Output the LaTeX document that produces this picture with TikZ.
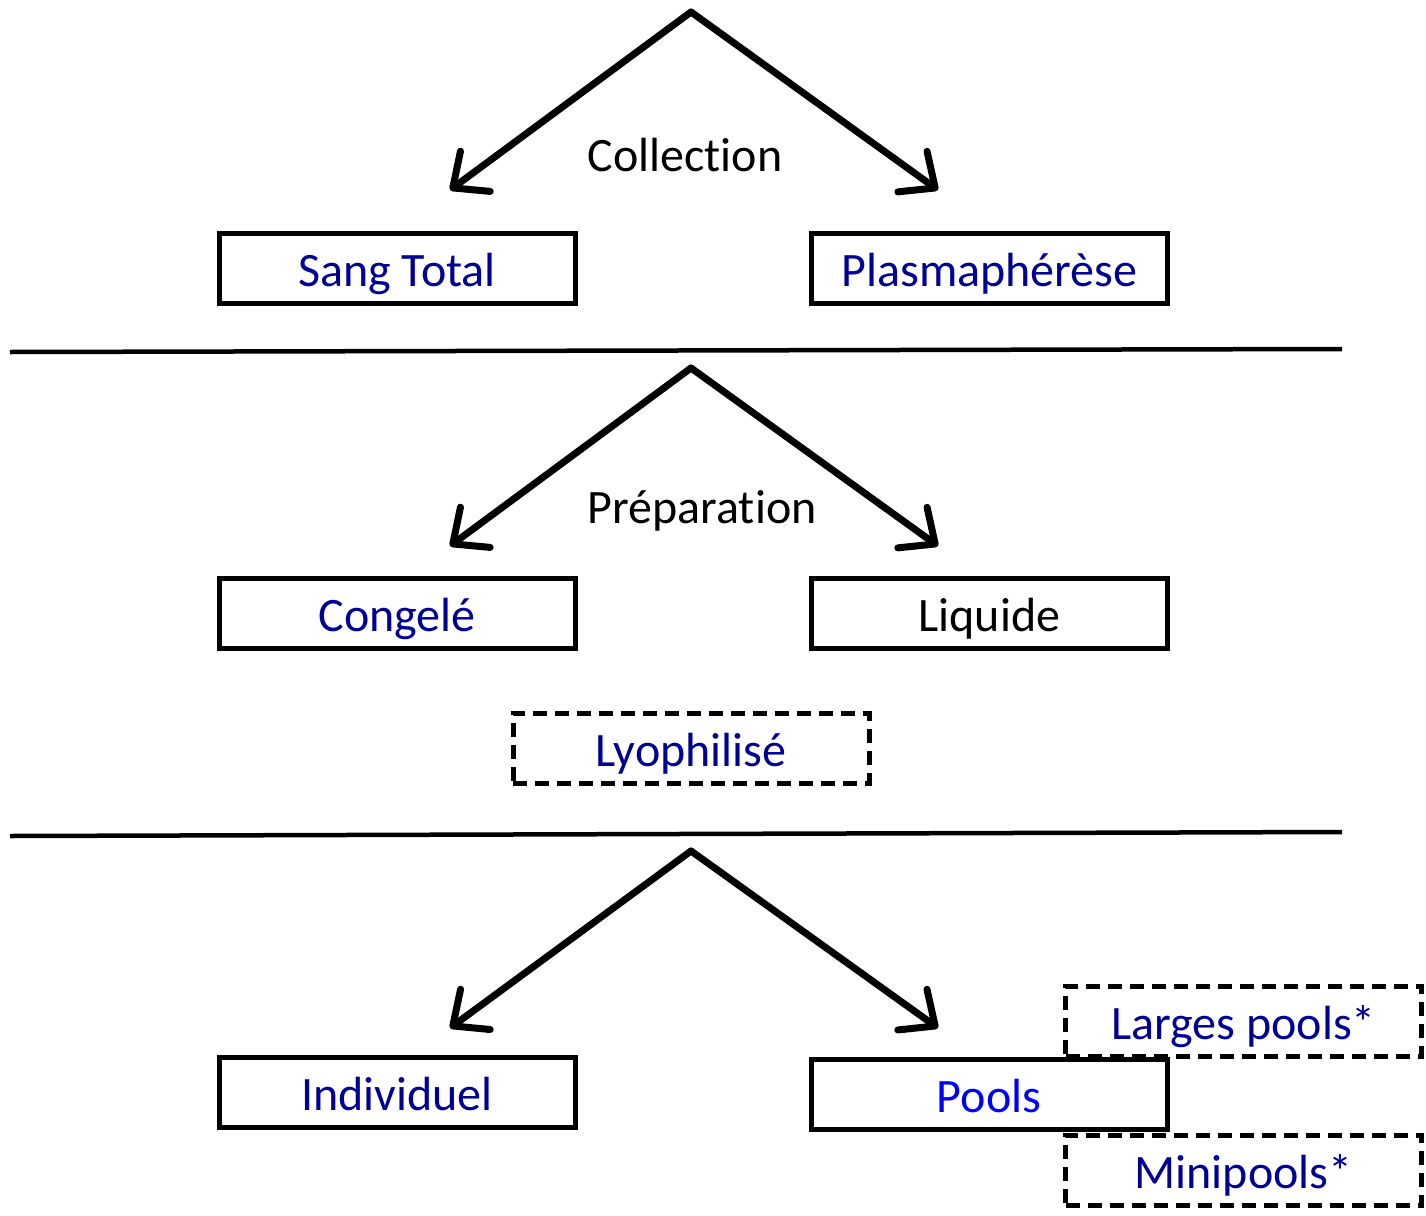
\documentclass[tikz,border=0pt]{standalone}
\usepackage{fontspec}
\setmainfont{Carlito}[Ligatures={NoCommon}, RawFeature={-liga}]
\usetikzlibrary{arrows.meta}
\definecolor{dblue}{RGB}{0,0,150}
\definecolor{bblue}{RGB}{0,0,255}
\tikzset{
  box/.style={draw=black, line width=5pt, minimum width=356pt, minimum height=70pt, inner sep=0pt, font=\fontsize{48}{54}\selectfont, text=dblue, text depth=4pt, text height=40pt},
  dbox/.style={box, dash pattern=on 14pt off 8pt},
  arr/.style={line width=7pt, line cap=round, -{Straight Barb[length=28pt,width=50pt,line cap=round,line join=round]}},
  rule/.style={line width=4.5pt},
  lbl/.style={font=\fontsize{48}{54}\selectfont, text=black}
}
\begin{document}
\begin{tikzpicture}[x=1pt,y=-1pt]
\useasboundingbox (0,0) rectangle (1426,1215);
% section 1
\coordinate (a1) at (691,12);
\coordinate (l1) at (450,190);
\coordinate (r1) at (938,190);
\draw[arr] (a1) -- (l1);
\draw[arr] (a1) -- (r1);
\node[lbl] (collection) at (685,155) {Collection};
\node[box] (sang) at (397,268.5) {Sang Total};
\node[box] (plasma) at (989.5,268.5) {Plasmaphérèse};
\coordinate (h1a) at (10,352);
\coordinate (h1b) at (1342,349);
\draw[rule] (h1a) -- (h1b);
% section 2
\coordinate (a2) at (691,368);
\coordinate (l2) at (450,546);
\coordinate (r2) at (938,546);
\draw[arr] (a2) -- (l2);
\draw[arr] (a2) -- (r2);
\node[lbl] (prep) at (702,511) {Préparation};
\node[box] (congele) at (397,613.5) {Congelé};
\node[box, text=black] (liquide) at (989.5,613.5) {Liquide};
\node[dbox] (lyo) at (691,748) {Lyophilisé};
\coordinate (h2a) at (10,836);
\coordinate (h2b) at (1342,832);
\draw[rule] (h2a) -- (h2b);
% section 3
\coordinate (a3) at (691,851);
\coordinate (l3) at (450,1028);
\coordinate (r3) at (938,1028);
\draw[arr] (a3) -- (l3);
\draw[arr] (a3) -- (r3);
\node[box] (indiv) at (397,1092) {Individuel};
\node[dbox] (larges) at (1243.5,1021) {Larges pools*};
\node[dbox] (mini) at (1243.5,1170) {Minipools*};
\node[box, text=bblue, fill=white] (pools) at (989,1094.5) {Pools};
\end{tikzpicture}
\end{document}
